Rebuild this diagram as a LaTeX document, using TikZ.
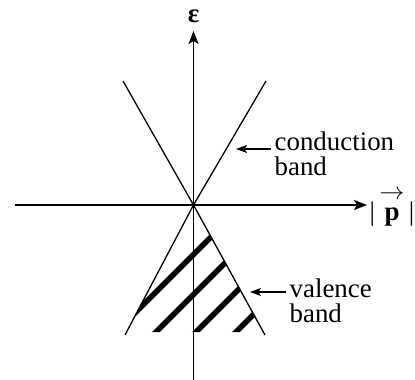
\documentclass[tikz,border=0pt]{standalone}
\usepackage{amsmath}
\usepackage{fontspec}
\setmainfont{Liberation Serif}
\usetikzlibrary{arrows.meta,positioning}

\begin{document}
\begin{tikzpicture}[x=1bp,y=-1bp,line width=1.3bp,
  every node/.style={font=\fontsize{27}{25}\selectfont,inner sep=0pt},
  axis/.style={-{Stealth[length=13bp,width=10bp,inset=3bp]}},
  lblarrow/.style={line width=1.1bp,-{Stealth[length=11bp,width=8bp,inset=2.5bp]}},
  stripe/.style={line width=5.5bp}]
  \useasboundingbox (0,0) rectangle (415,380);
  \coordinate (O) at (193.5,205);
  \coordinate (cUL) at (123,81);
  \coordinate (cUR) at (266,81);
  \coordinate (vLL) at (125,335);
  \coordinate (vLR) at (265,335);
  \coordinate (xstart) at (15,205);
  \coordinate (xend) at (367,205);
  \coordinate (ystart) at (193.5,380);
  \coordinate (yend) at (193.5,31);
  \coordinate (ctip) at (236,149);
  \coordinate (vtip) at (250,292);
  % hatching of the filled band
  \begin{scope}
    \clip (O) -- (126,332) -- (264,332) -- cycle;
    \foreach \x in {116,156,196,236}
      \draw[stripe] (\x-10,342) -- ++(160,-160);
  \end{scope}
  \draw (cUL) -- (O) -- (cUR);
  \draw (vLL) -- (O) -- (vLR);
  \draw[axis] (xstart) -- (xend);
  \draw[axis] (ystart) -- (yend);
  \node (eps) at (193.5,16) {\bfseries ε};
  \node (pabs) at (392,207) {|\,$\overset{\raisebox{3pt}{$\rightarrow$}}{\textbf{p}}$\,|};
  \node[anchor=west,align=left] (cond) at (274,153.5) {conduction\\band};
  \node[anchor=west,align=left] (val) at (289,300.5) {valence\\band};
  \draw[lblarrow] ([xshift=-3bp]cond.west |- ctip) -- (ctip);
  \draw[lblarrow] ([xshift=-3bp]val.west |- vtip) -- (vtip);
\end{tikzpicture}
\end{document}
